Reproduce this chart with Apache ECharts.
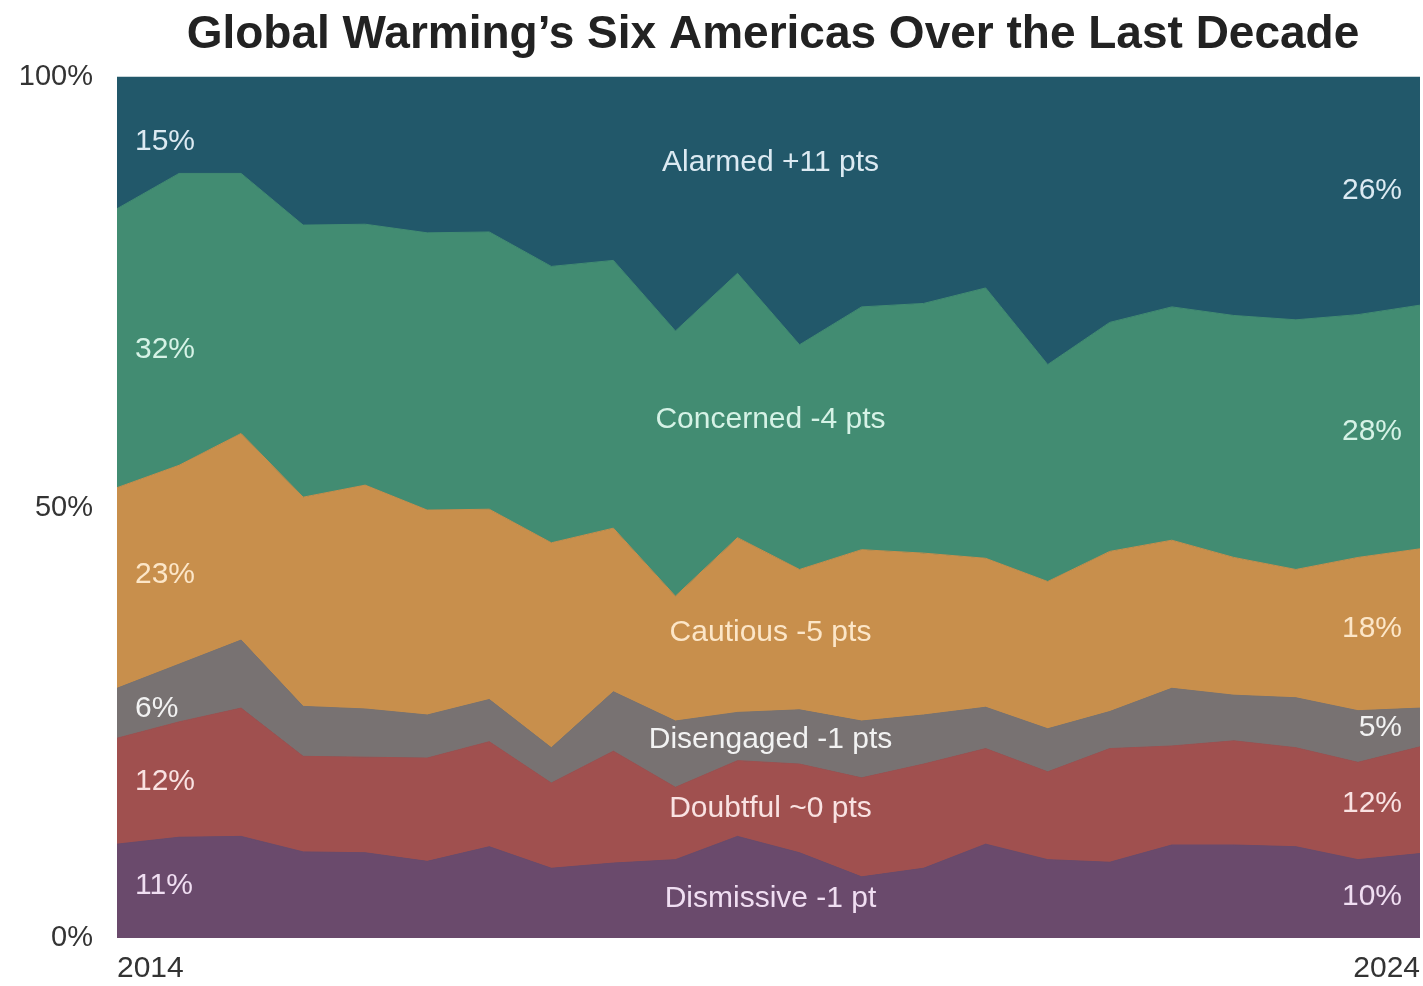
<!DOCTYPE html>
<html><head><meta charset="utf-8">
<script src="https://cdn.jsdelivr.net/npm/echarts@6/dist/echarts.min.js"></script>
<style>html,body{margin:0;padding:0;background:#fff}#chart{width:1423px;height:986px}</style>
</head><body><div id="chart"></div>
<script>
// ---- data ----
const waves = ['Wave 1','Wave 2','Wave 3','Wave 4','Wave 5','Wave 6','Wave 7','Wave 8','Wave 9','Wave 10','Wave 11',
  'Wave 12','Wave 13','Wave 14','Wave 15','Wave 16','Wave 17','Wave 18','Wave 19','Wave 20','Wave 21','Wave 22'];
const xTickLabels = ['2014', '2024'];
const yTicks = [0, 50, 100];

const seriesNames = ['Dismissive', 'Doubtful', 'Disengaged', 'Cautious', 'Concerned', 'Alarmed'];
const dismissive = [10.9, 11.7, 11.8, 10.0, 9.9, 8.9, 10.6, 8.1, 8.7, 9.1, 11.8, 9.9, 7.1, 8.1, 10.9, 9.1, 8.8, 10.8, 10.8, 10.6, 9.1, 9.8];
const doubtful   = [12.3, 13.4, 14.9, 11.1, 11.1, 12.0, 12.2, 9.9, 13.0, 8.4, 8.8, 10.3, 11.5, 12.1, 11.1, 10.2, 13.2, 11.5, 12.1, 11.5, 11.3, 12.4];
const disengaged = [5.8, 6.7, 7.9, 5.8, 5.6, 5.0, 4.9, 4.1, 6.9, 7.7, 5.6, 6.3, 6.6, 5.7, 4.8, 5.0, 4.3, 6.7, 5.3, 5.8, 6.0, 4.5];
const cautious   = [23.3, 23.1, 24.0, 24.3, 26.0, 23.8, 22.1, 23.8, 19.0, 14.5, 20.3, 16.3, 19.9, 18.8, 17.3, 17.1, 18.6, 17.2, 16.0, 14.9, 17.8, 18.5];
const concerned  = [32.4, 33.9, 30.2, 31.6, 30.3, 32.2, 32.2, 32.1, 31.1, 30.8, 30.7, 26.1, 28.2, 29.0, 31.4, 25.2, 26.6, 27.1, 28.1, 29.0, 28.2, 28.3];
const alarmed    = [15.3, 11.2, 11.2, 17.2, 17.1, 18.1, 18.0, 22.0, 21.3, 29.5, 22.8, 31.1, 26.7, 26.3, 24.5, 33.4, 28.5, 26.7, 27.7, 28.2, 27.6, 26.5];

const startLabels  = ['11%', '12%', '6%', '23%', '32%', '15%'];
const endLabels    = ['10%', '12%', '5%', '18%', '28%', '26%'];
const changeLabels = ['Dismissive -1 pt', 'Doubtful ~0 pts', 'Disengaged -1 pts', 'Cautious -5 pts', 'Concerned -4 pts', 'Alarmed +11 pts'];

// ---- style ----
const values = [dismissive, doubtful, disengaged, cautious, concerned, alarmed];
const colors = ['#6A4A6C', '#A0504F', '#787272', '#C88F4C', '#428C72', '#22586A'];
const labelColors = ['#F0DEF2', '#F9E2E2', '#F2F2F2', '#FCE6C8', '#D6F2E6', '#DCEAF2'];
const FONT = '"Liberation Sans", Arial, Helvetica, sans-serif';
// small vertical nudges (px) of annotation text relative to band centre
const startDy  = [-5, -9, -5, -13, 2, -1];
const endDy    = [1, 3, 0, 0, 5, 0];
const centerDy = [7, 5, 3, 0, -12, -30];

const chart = echarts.init(document.getElementById('chart'), null, {renderer: 'canvas'});

const series = seriesNames.map((name, i) => ({
  name: name,
  type: 'line',
  stack: 'total',
  data: values[i],
  symbol: 'none',
  showSymbol: false,
  smooth: false,
  silent: true,
  lineStyle: {width: 1, color: colors[i]},
  areaStyle: {color: colors[i], opacity: 1},
  itemStyle: {color: colors[i]},
  emphasis: {disabled: true},
  z: 2
}));

chart.setOption({
  animation: false,
  backgroundColor: '#ffffff',
  title: {
    text: 'Global Warming\u2019s Six Americas Over the Last Decade',
    left: 768,
    top: 7,
    textAlign: 'center',
    textStyle: {fontSize: 46, fontWeight: 'bold', color: '#222222', fontFamily: FONT}
  },
  grid: {left: 117, right: 0, top: 77, bottom: 48, containLabel: false,
         show: true, backgroundColor: colors[5], borderWidth: 0},
  xAxis: {
    type: 'category',
    data: waves,
    boundaryGap: false,
    axisLine: {show: false},
    axisTick: {show: false},
    splitLine: {show: false},
    axisLabel: {
      interval: 0,
      margin: 16,
      fontSize: 30,
      color: '#333333',
      fontFamily: FONT,
      alignMinLabel: 'left',
      alignMaxLabel: 'right',
      formatter: (v, idx) => idx === 0 ? xTickLabels[0] : (idx === waves.length - 1 ? xTickLabels[1] : '')
    }
  },
  yAxis: {
    type: 'value',
    min: yTicks[0],
    max: yTicks[yTicks.length - 1],
    interval: yTicks[1] - yTicks[0],
    axisLine: {show: false},
    axisTick: {show: false},
    splitLine: {show: false},
    axisLabel: {margin: 24, fontSize: 29, color: '#333333', fontFamily: FONT, formatter: '{value}%'}
  },
  series: series
});

// ---- annotations positioned through the chart's own scales ----
function bandMid(idx, s) {
  let lower = 0;
  for (let k = 0; k < s; k++) lower += values[k][idx];
  return lower + values[s][idx] / 2;
}
const last = waves.length - 1;
const xLeft = chart.convertToPixel({xAxisIndex: 0}, 0);
const xRight = chart.convertToPixel({xAxisIndex: 0}, last);
const midA = Math.floor(last / 2), midB = midA + 1;
const xMid = (chart.convertToPixel({xAxisIndex: 0}, midA) + chart.convertToPixel({xAxisIndex: 0}, midB)) / 2;

const elements = [];
for (let s = 0; s < seriesNames.length; s++) {
  const yStart = chart.convertToPixel({yAxisIndex: 0}, bandMid(0, s)) + startDy[s];
  const yEnd = chart.convertToPixel({yAxisIndex: 0}, bandMid(last, s)) + endDy[s];
  const yMid = chart.convertToPixel({yAxisIndex: 0}, (bandMid(midA, s) + bandMid(midB, s)) / 2) + centerDy[s];
  const base = {fill: labelColors[s], fontSize: 30, fontFamily: FONT, verticalAlign: 'middle'};
  elements.push({type: 'text', x: xLeft + 18, y: yStart, z: 100, silent: true,
    style: Object.assign({}, base, {text: startLabels[s], align: 'left'})});
  elements.push({type: 'text', x: xRight - 18, y: yEnd, z: 100, silent: true,
    style: Object.assign({}, base, {text: endLabels[s], align: 'right'})});
  elements.push({type: 'text', x: xMid + 2, y: yMid, z: 100, silent: true,
    style: Object.assign({}, base, {text: changeLabels[s], align: 'center'})});
}
chart.setOption({graphic: {elements: elements}});
</script>
</body></html>
